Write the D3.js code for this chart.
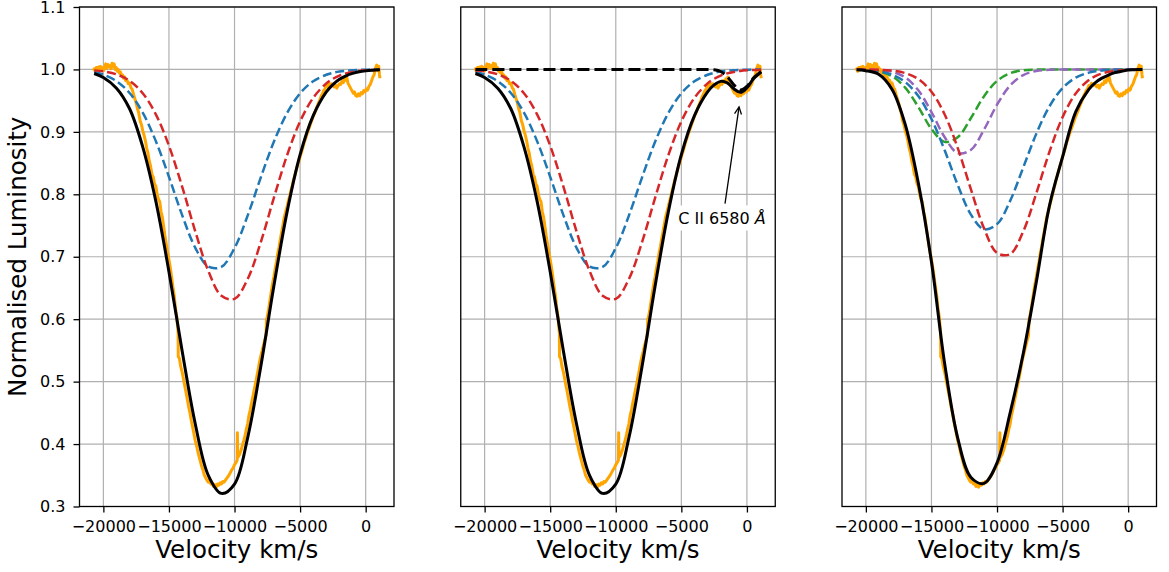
<!DOCTYPE html>
<html>
<head>
<meta charset="utf-8">
<script src="https://cdn.jsdelivr.net/npm/d3@7"></script>
<style>
  body { margin: 0; background: #fff; }
  text { font-family: "DejaVu Sans", sans-serif; fill: #000; }
</style>
</head>
<body>
<svg id="chart" width="1169" height="572"></svg>
<script>
// ---- data ----

// velocity grid of the fitted profiles, km/s
const fitVel = [-20700, -20000, -19000, -18000, -17000, -16000, -15000, -14000, -13000,
  -12000, -11000, -10000, -9000, -8000, -7000, -6000, -5000, -4000, -3000,
  -2500, -2000, -1500, -1000, -500, 0, 500, 1080];

// panels 1 and 2: two-component fit
const fitBlueA = [0.9955, 0.9917, 0.9813, 0.9622, 0.9307, 0.8852, 0.8280, 0.7670, 0.7147,
  0.6842, 0.6838, 0.7139, 0.7658, 0.8268, 0.8841, 0.9299, 0.9617, 0.9811, 0.9915,
  0.9946, 0.9966, 0.9979, 0.9987, 0.9993, 0.9996, 0.9998, 0.9999];
const fitRedA = [0.9985, 0.9969, 0.9921, 0.9818, 0.9619, 0.9281, 0.8778, 0.8128, 0.7412,
  0.6775, 0.6375, 0.6326, 0.6642, 0.7232, 0.7943, 0.8621, 0.9167, 0.9546, 0.9777,
  0.9849, 0.9901, 0.9937, 0.9960, 0.9976, 0.9986, 0.9992, 0.9996];
const fitBlackA = [0.9935, 0.9870, 0.9700, 0.9370, 0.8760, 0.7890, 0.6760, 0.5500, 0.4330,
  0.3500, 0.3210, 0.3360, 0.4100, 0.5240, 0.6530, 0.7710, 0.8635, 0.9260, 0.9640,
  0.9758, 0.9842, 0.9898, 0.9937, 0.9962, 0.9977, 0.9987, 0.9994];

// panel 2: with the C II 6580 line
const fitCII = [1, 1, 1, 1, 1, 1, 1, 1, 1, 1, 1, 1, 1, 1, 1, 1, 1, 1, 0.9999,
  0.9994, 0.9967, 0.9886, 0.9753, 0.9671, 0.9729, 0.9862, 0.9965];
const fitBlackB = [0.9935, 0.9870, 0.9700, 0.9370, 0.8760, 0.7890, 0.6760, 0.5500, 0.4330,
  0.3500, 0.3210, 0.3360, 0.4100, 0.5240, 0.6530, 0.7710, 0.8635, 0.9260, 0.9639,
  0.9752, 0.9809, 0.9784, 0.9690, 0.9633, 0.9706, 0.9849, 0.9959];

// panel 3: four-component fit
const fitGreenC = [0.9998, 0.9993, 0.9969, 0.9891, 0.9708, 0.9399, 0.9047, 0.8840, 0.8913,
  0.9218, 0.9567, 0.9816, 0.9940, 0.9985, 0.9997, 1, 1, 1, 1,
  1, 1, 1, 1, 1, 1, 1, 1];
const fitPurpleC = [1, 0.9998, 0.9991, 0.9962, 0.9872, 0.9666, 0.9318, 0.8917, 0.8661,
  0.8710, 0.9032, 0.9435, 0.9743, 0.9909, 0.9975, 0.9995, 0.9999, 1, 1,
  1, 1, 1, 1, 1, 1, 1, 1];
const fitBlueC = [0.9996, 0.9990, 0.9969, 0.9916, 0.9798, 0.9573, 0.9208, 0.8709, 0.8152,
  0.7679, 0.7441, 0.7522, 0.7895, 0.8430, 0.8972, 0.9409, 0.9702, 0.9868, 0.9949,
  0.9969, 0.9982, 0.9990, 0.9995, 0.9997, 0.9998, 0.9999, 1];
const fitRedC = [1, 0.9999, 0.9995, 0.9981, 0.9942, 0.9845, 0.9643, 0.9283, 0.8744,
  0.8086, 0.7459, 0.7062, 0.7042, 0.7406, 0.8018, 0.8682, 0.9236, 0.9615, 0.9831,
  0.9893, 0.9935, 0.9962, 0.9978, 0.9988, 0.9994, 0.9997, 0.9999];
const fitBlackC = [0.9994, 0.998, 0.992, 0.968, 0.912, 0.818, 0.692, 0.530, 0.410,
  0.347, 0.337, 0.370, 0.450, 0.545, 0.660, 0.782, 0.860, 0.932, 0.968,
  0.979, 0.986, 0.991, 0.995, 0.997, 0.999, 0.9995, 1];

// observed spectrum (same in every panel)
const specVel = [-20760, -20700, -20620, -20540, -20460, -20380, -20300, -20220, -20140, -20060,
  -19980, -19900, -19820, -19740, -19660, -19580, -19500, -19420, -19340, -19260,
  -19180, -19100, -19020, -18940, -18860, -18780, -18700, -18620, -18540, -18460,
  -18380, -18300, -18200, -18100, -18000, -17900, -17800, -17700, -17600, -17500,
  -17400, -17300, -17200, -17100, -17000, -16900, -16800, -16700, -16600, -16500,
  -16400, -16300, -16200, -16100, -16000, -15900, -15800, -15700, -15600, -15500,
  -15400, -15300, -15200, -15100, -15000, -14900, -14800, -14700, -14600, -14500,
  -14400, -14300, -14290, -14200, -14100, -14000, -13900, -13800, -13700, -13600,
  -13500, -13400, -13300, -13200, -13100, -13000, -12900, -12800, -12700, -12600,
  -12500, -12400, -12300, -12200, -12100, -12000, -11900, -11800, -11700, -11600,
  -11500, -11400, -11300, -11200, -11100, -11000, -10900, -10800, -10700, -10600,
  -10500, -10400, -10300, -10200, -10100, -10000, -9900, -9800, -9780, -9760,
  -9700, -9600, -9500, -9400, -9300, -9200, -9100, -9000, -8900, -8800,
  -8700, -8600, -8500, -8400, -8300, -8200, -8100, -8000, -7900, -7800,
  -7700, -7600, -7560, -7500, -7400, -7300, -7200, -7100, -7000, -6900,
  -6800, -6700, -6600, -6500, -6400, -6300, -6200, -6100, -6000, -5900,
  -5800, -5700, -5600, -5500, -5400, -5300, -5200, -5100, -5000, -4900,
  -4800, -4700, -4600, -4500, -4400, -4300, -4200, -4100, -4000, -3900,
  -3800, -3700, -3600, -3500, -3400, -3300, -3200, -3100, -3000, -2900,
  -2800, -2700, -2600, -2500, -2400, -2300, -2200, -2100, -2000, -1900,
  -1800, -1700, -1600, -1500, -1450, -1350, -1250, -1150, -1050, -950,
  -850, -750, -650, -550, -450, -350, -250, -150, -50, 50,
  150, 250, 350, 450, 550, 650, 750, 838, 900, 950,
  1000, 1050, 1090];
const specFlux = [0.998, 1.001, 0.997, 1.003, 0.999, 1.004, 1.000, 1.005, 1.001, 1.003,
  0.998, 1.004, 1.009, 1.002, 1.008, 1.004, 1.006, 1.001, 1.010, 1.004,
  1.009, 1.000, 1.003, 0.997, 1.000, 0.994, 0.996, 0.990, 0.991, 0.986,
  0.988, 0.982, 0.983, 0.977, 0.978, 0.971, 0.968, 0.960, 0.953, 0.946,
  0.937, 0.930, 0.918, 0.912, 0.902, 0.895, 0.886, 0.874, 0.866, 0.853,
  0.845, 0.832, 0.828, 0.817, 0.813, 0.800, 0.792, 0.788, 0.772, 0.763,
  0.748, 0.733, 0.720, 0.707, 0.695, 0.683, 0.668, 0.652, 0.638, 0.617,
  0.603, 0.578, 0.540, 0.537, 0.524, 0.516, 0.505, 0.494, 0.483, 0.472,
  0.460, 0.450, 0.438, 0.428, 0.417, 0.406, 0.398, 0.388, 0.380, 0.372,
  0.364, 0.358, 0.350, 0.346, 0.342, 0.339, 0.343, 0.336, 0.338, 0.332,
  0.335, 0.331, 0.336, 0.334, 0.338, 0.336, 0.340, 0.339, 0.342, 0.345,
  0.348, 0.351, 0.355, 0.359, 0.362, 0.367, 0.370, 0.374, 0.418, 0.378,
  0.380, 0.384, 0.390, 0.398, 0.405, 0.413, 0.424, 0.432, 0.446, 0.455,
  0.466, 0.476, 0.487, 0.497, 0.508, 0.519, 0.531, 0.541, 0.549, 0.558,
  0.566, 0.574, 0.600, 0.604, 0.616, 0.630, 0.644, 0.657, 0.668, 0.681,
  0.692, 0.706, 0.716, 0.729, 0.740, 0.752, 0.764, 0.772, 0.780, 0.789,
  0.797, 0.806, 0.814, 0.823, 0.830, 0.838, 0.846, 0.852, 0.860, 0.867,
  0.874, 0.882, 0.888, 0.895, 0.901, 0.907, 0.913, 0.919, 0.925, 0.930,
  0.935, 0.941, 0.946, 0.951, 0.957, 0.961, 0.966, 0.969, 0.974, 0.972,
  0.978, 0.974, 0.977, 0.975, 0.972, 0.975, 0.970, 0.974, 0.977, 0.976,
  0.982, 0.979, 0.985, 0.983, 0.988, 0.978, 0.974, 0.970, 0.966, 0.962,
  0.964, 0.958, 0.957, 0.961, 0.958, 0.963, 0.961, 0.966, 0.964, 0.969,
  0.967, 0.973, 0.976, 0.982, 0.988, 0.992, 1.002, 1.007, 1.004, 0.998,
  1.005, 0.992, 0.986];

const xTicks = [-20000, -15000, -10000, -5000, 0];
const yTicks = [0.3, 0.4, 0.5, 0.6, 0.7, 0.8, 0.9, 1.0, 1.1];

const xLabel = "Velocity km/s";
const yLabel = "Normalised Luminosity";

// annotation in the middle panel: text centre and arrow tip, data coords
const annText = ["C II 6580 ", "Å"];
const annTextAt = [-1900, 0.762];
const annTailAt = [-1670, 0.785];
const annTipAt = [-600, 0.940];

// ---- layout ----
const colors = {blue: "#1f77b4", red: "#d62728", green: "#2ca02c", purple: "#9467bd",
  orange: "#ffa500", black: "#000000"};

const panels = [
  {left: 79.5, yLabels: true, fits: [
    {y: fitBlueA, color: colors.blue, dash: true},
    {y: fitRedA, color: colors.red, dash: true},
    {y: fitBlackA, color: colors.black, dash: false}]},
  {left: 460.75, yLabels: false, note: true, fits: [
    {y: fitBlueA, color: colors.blue, dash: true},
    {y: fitRedA, color: colors.red, dash: true},
    {y: fitBlackB, color: colors.black, dash: false},
    {y: fitCII, color: colors.black, dash: true, thick: true}]},
  {left: 842, yLabels: false, fits: [
    {y: fitGreenC, color: colors.green, dash: true},
    {y: fitPurpleC, color: colors.purple, dash: true},
    {y: fitBlueC, color: colors.blue, dash: true},
    {y: fitRedC, color: colors.red, dash: true},
    {y: fitBlackC, color: colors.black, dash: false}]}
];

const plotTop = 7, plotH = 499.5, plotW = 314.5;

const svg = d3.select("#chart");
svg.append("rect").attr("width", 1169).attr("height", 572).attr("fill", "#fff");

const xScale = d3.scaleLinear().domain([-21820, 2160]).range([0, plotW]);
const yScale = d3.scaleLinear().domain([0.3, 1.1]).range([plotH, 0]);

const fitLine = d3.line()
  .x(d => xScale(d[0]))
  .y(d => yScale(d[1]))
  .curve(d3.curveCatmullRom);

const specLine = d3.line()
  .x(d => xScale(d[0]))
  .y(d => yScale(d[1]));

function drawPanel(p) {
  const g = svg.append("g").attr("transform", "translate(" + p.left + "," + plotTop + ")");

  // grid
  g.append("g").selectAll("line").data(xTicks).join("line")
    .attr("x1", d => xScale(d)).attr("x2", d => xScale(d))
    .attr("y1", 0).attr("y2", plotH)
    .attr("stroke", "#b0b0b0").attr("stroke-width", 1.2);
  g.append("g").selectAll("line").data(yTicks).join("line")
    .attr("x1", 0).attr("x2", plotW)
    .attr("y1", d => yScale(d)).attr("y2", d => yScale(d))
    .attr("stroke", "#b0b0b0").attr("stroke-width", 1.2);

  // spectrum
  g.append("path")
    .datum(specVel.map((v, i) => [v, specFlux[i]]))
    .attr("d", specLine)
    .attr("fill", "none")
    .attr("stroke", colors.orange)
    .attr("stroke-width", 3)
    .attr("stroke-linejoin", "round");

  // fits
  p.fits.forEach(f => {
    g.append("path")
      .datum(fitVel.map((v, i) => [v, f.y[i]]))
      .attr("d", fitLine)
      .attr("fill", "none")
      .attr("stroke", f.color)
      .attr("stroke-width", f.dash && !f.thick ? 2.5 : 3)
      .attr("stroke-dasharray", f.dash ? (f.thick ? "12,5" : "9,4") : null);
  });

  if (p.note) drawNote(g);

  // frame
  g.append("rect").attr("width", plotW).attr("height", plotH)
    .attr("fill", "none").attr("stroke", "#000").attr("stroke-width", 1.3);

  // x axis
  const xAxis = d3.axisBottom(xScale).tickValues(xTicks).tickSize(6).tickPadding(8)
    .tickFormat(d3.format("d"));
  const gx = g.append("g").attr("transform", "translate(0," + plotH + ")").call(xAxis);
  styleAxis(gx);

  if (p.yLabels) {
    const yAxis = d3.axisLeft(yScale).tickValues(yTicks).tickSize(6).tickPadding(8)
      .tickFormat(d3.format(".1f"));
    const gy = g.append("g").call(yAxis);
    styleAxis(gy);
    svg.append("text")
      .attr("transform", "translate(25.5," + (plotTop + plotH / 2) + ") rotate(-90)")
      .attr("text-anchor", "middle")
      .attr("font-size", 24.5)
      .text(yLabel);
  }

  g.append("text")
    .attr("x", plotW / 2).attr("y", 551)
    .attr("text-anchor", "middle")
    .attr("font-size", 24.5)
    .text(xLabel);
}

function styleAxis(ax) {
  ax.attr("font-family", null).attr("font-size", null);
  ax.select(".domain").remove();
  ax.selectAll(".tick line").attr("stroke", "#000").attr("stroke-width", 1.3);
  ax.selectAll(".tick text").attr("font-size", 16).attr("fill", "#000");
}

function drawNote(g) {
  const tx = xScale(annTextAt[0]), ty = yScale(annTextAt[1]);
  const t = g.append("text")
    .attr("x", tx).attr("y", ty)
    .attr("text-anchor", "middle")
    .attr("dominant-baseline", "central")
    .attr("font-size", 16);
  t.append("tspan").text(annText[0]);
  t.append("tspan").attr("font-style", "italic").text(annText[1]);
  const bb = t.node().getBBox();
  g.insert("rect", "text")
    .attr("x", bb.x - 4).attr("y", bb.y - 3)
    .attr("width", bb.width + 8).attr("height", bb.height + 6)
    .attr("rx", 4).attr("fill", "#fff");
  t.raise();

  const x0 = xScale(annTailAt[0]), y0 = yScale(annTailAt[1]);
  const x1 = xScale(annTipAt[0]), y1 = yScale(annTipAt[1]);
  g.append("line")
    .attr("x1", x0).attr("y1", y0).attr("x2", x1).attr("y2", y1)
    .attr("stroke", "#000").attr("stroke-width", 1.3);
  const ang = Math.atan2(y1 - y0, x1 - x0);
  const hl = 8, hw = 0.45;
  g.append("path")
    .attr("d", "M" + (x1 - hl * Math.cos(ang - hw)) + "," + (y1 - hl * Math.sin(ang - hw)) +
      "L" + x1 + "," + y1 +
      "L" + (x1 - hl * Math.cos(ang + hw)) + "," + (y1 - hl * Math.sin(ang + hw)))
    .attr("fill", "none").attr("stroke", "#000").attr("stroke-width", 1.3);
}

panels.forEach(drawPanel);
</script>
</body>
</html>
